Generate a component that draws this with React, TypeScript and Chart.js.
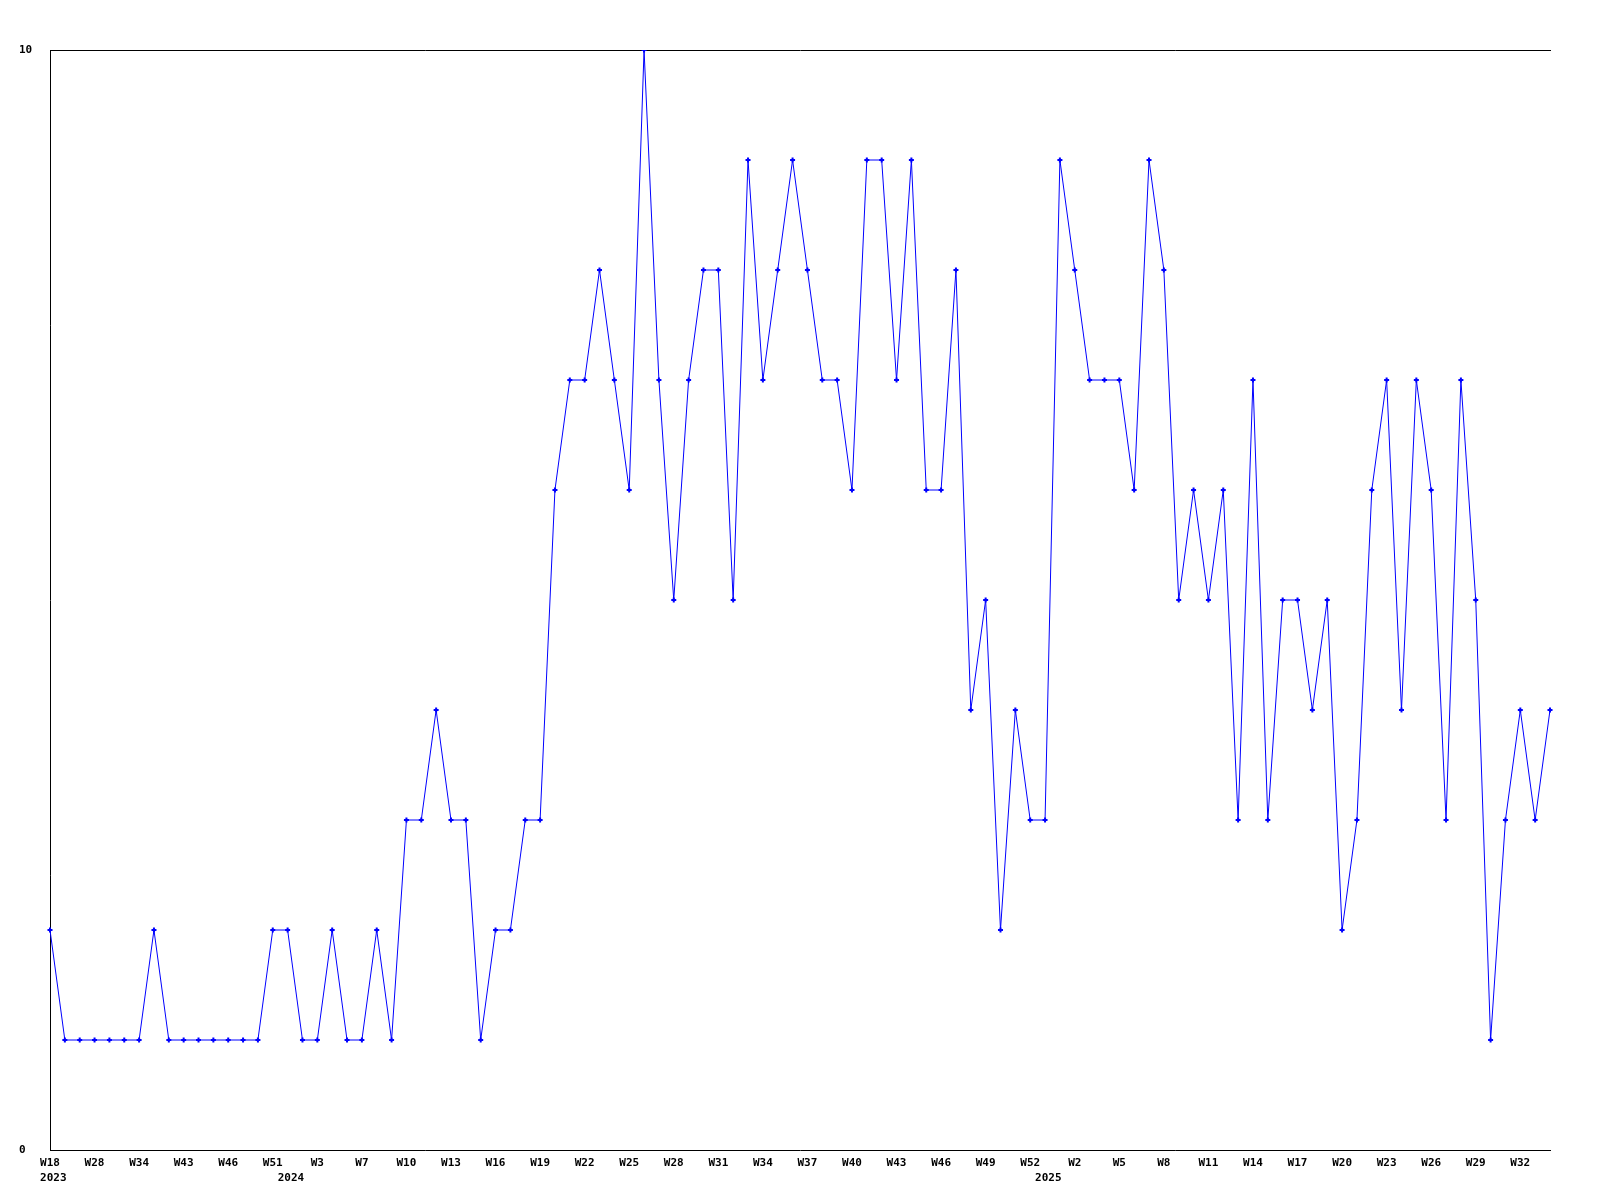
import React, { useEffect, useRef } from "react";
import { Chart, registerables } from "chart.js";

Chart.register(...registerables);

// Week labels, per year (only every third one is printed on the axis)
const weeks2023 = ["W18", "W22", "W25", "W28", "W30", "W32", "W34", "W37", "W40", "W43", "W44", "W45", "W46", "W47", "W49", "W51"];
const weeks2024 = [
  "W1", "W2", "W3", "W5", "W6", "W7", "W8", "W9", "W10", "W11", "W12", "W13", "W14", "W15", "W16", "W17",
  "W18", "W19", "W20", "W21", "W22", "W23", "W24", "W25", "W26", "W27", "W28", "W29", "W30", "W31", "W32",
  "W33", "W34", "W35", "W36", "W37", "W38", "W39", "W40", "W41", "W42", "W43", "W44", "W45", "W46", "W47",
  "W48", "W49", "W50", "W51", "W52",
];
const weeks2025 = [
  "W0", "W1", "W2", "W3", "W4", "W5", "W6", "W7", "W8", "W9", "W10", "W11", "W12", "W13", "W14", "W15", "W16",
  "W17", "W18", "W19", "W20", "W21", "W22", "W23", "W24", "W25", "W26", "W27", "W28", "W29", "W30", "W31",
  "W32", "W33", "W34",
];
const years = ["2023", "2024", "2025"];

// Weekly counts
const values = [
  2, 1, 1, 1, 1, 1, 1, 2, 1, 1,
  1, 1, 1, 1, 1, 2, 2, 1, 1, 2,
  1, 1, 2, 1, 3, 3, 4, 3, 3, 1,
  2, 2, 3, 3, 6, 7, 7, 8, 7, 6,
  10, 7, 5, 7, 8, 8, 5, 9, 7, 8,
  9, 8, 7, 7, 6, 9, 9, 7, 9, 6,
  6, 8, 4, 5, 2, 4, 3, 3, 9, 8,
  7, 7, 7, 6, 9, 8, 5, 6, 5, 6,
  3, 7, 3, 5, 5, 4, 5, 2, 3, 6,
  7, 4, 7, 6, 3, 7, 5, 1, 3, 4,
  3, 4,
];

const yTicks = [0, 10];

const weekGroups = [weeks2023, weeks2024, weeks2025];
const labels: string[] = [];
const yearOf: string[] = [];
weekGroups.forEach((g, gi) => {
  g.forEach((w) => {
    labels.push(w);
    yearOf.push(years[gi]);
  });
});

const FONT = {
  family: "'DejaVu Sans Mono', 'Liberation Mono', monospace",
  size: 11,
  weight: "bold" as const,
  lineHeight: 1.35,
};

export default function App() {
  const canvasRef = useRef<HTMLCanvasElement | null>(null);

  useEffect(() => {
    const canvas = canvasRef.current;
    if (!canvas) return;
    const chart = new Chart(canvas, {
      type: "line",
      data: {
        labels,
        datasets: [
          {
            data: values,
            borderColor: "#0000ff",
            backgroundColor: "#0000ff",
            borderWidth: 1,
            tension: 0,
            fill: false,
            pointStyle: "cross",
            pointRadius: 2.5,
            pointBorderWidth: 2,
            pointBorderColor: "#0000ff",
            pointBackgroundColor: "#0000ff",
          },
        ],
      },
      options: {
        responsive: false,
        animation: false,
        layout: { padding: { left: 19, top: 50, right: 50, bottom: 10 } },
        plugins: {
          legend: { display: false },
          tooltip: { enabled: false },
          title: { display: false },
        },
        scales: {
          x: {
            type: "category",
            position: "bottom",
            offset: false,
            grid: { display: false, drawTicks: false },
            border: { display: true, color: "#000000", width: 1 },
            ticks: {
              autoSkip: false,
              maxRotation: 0,
              minRotation: 0,
              padding: 6,
              color: "#000000",
              font: FONT,
              callback: (value: any) => {
                const i = Number(value);
                const wk = i % 3 === 0 ? labels[i] : "";
                const newYear = i === 0 || yearOf[i] !== yearOf[i - 1];
                return newYear ? [wk, " " + yearOf[i]] : wk;
              },
            },
            afterFit: (scale: any) => {
              scale.height = 40;
            },
          },
          xTop: {
            type: "category",
            position: "top",
            offset: false,
            grid: { display: false, drawTicks: false },
            border: { display: true, color: "#000000", width: 1 },
            ticks: { display: false },
            afterFit: (scale: any) => {
              scale.height = 0;
            },
          },
          y: {
            type: "linear",
            position: "left",
            min: yTicks[0],
            max: yTicks[yTicks.length - 1],
            grid: { display: false, drawTicks: false },
            border: { display: true, color: "#000000", width: 1 },
            afterBuildTicks: (scale: any) => {
              scale.ticks = yTicks.map((v) => ({ value: v }));
            },
            ticks: {
              crossAlign: "far",
              color: "#000000",
              font: FONT,
              padding: 4,
            },
            afterFit: (scale: any) => {
              scale.width = 31;
            },
          },
        },
      },
    } as any);
    return () => chart.destroy();
  }, []);

  return (
    <div style={{ position: "fixed", left: 0, top: 0, width: 1600, height: 1200, background: "#ffffff" }}>
      <canvas ref={canvasRef} width={1600} height={1200} style={{ width: 1600, height: 1200, display: "block" }} />
    </div>
  );
}
